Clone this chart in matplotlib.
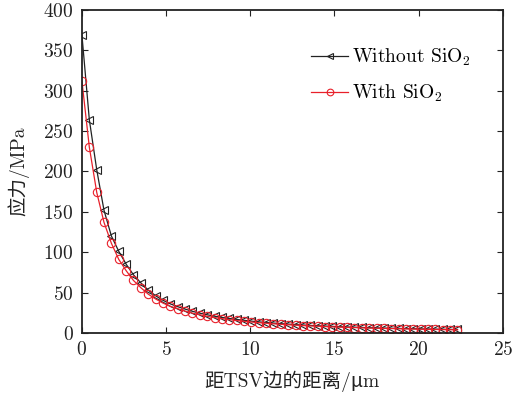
import numpy as np
import matplotlib
matplotlib.use('Agg')
import matplotlib.pyplot as plt

# ===== Data =====
dist_um = [0.00, 0.44, 0.88, 1.31, 1.75, 2.19, 2.63, 3.06, 3.50, 3.94,
           4.38, 4.81, 5.25, 5.69, 6.13, 6.56, 7.00, 7.44, 7.88, 8.31,
           8.75, 9.19, 9.63, 10.06, 10.50, 10.94, 11.38, 11.81, 12.25, 12.69,
           13.13, 13.56, 14.00, 14.44, 14.88, 15.31, 15.75, 16.19, 16.63, 17.06,
           17.50, 17.94, 18.38, 18.81, 19.25, 19.69, 20.13, 20.56, 21.00, 21.44,
           21.88, 22.31]
stress_without = [369, 264, 202, 152, 120, 101, 85, 72, 62, 53,
                  46, 40.5, 36, 32.5, 29.5, 26.8, 24.5, 22.5, 20.7, 19.2,
                  17.9, 16.7, 15.6, 14.6, 13.7, 12.9, 12.2, 11.5, 10.9, 10.3,
                  9.8, 9.3, 8.9, 8.5, 8.1, 7.7, 7.4, 7.1, 6.8, 6.5,
                  6.25, 6.0, 5.8, 5.6, 5.4, 5.2, 5.0, 4.85, 4.7, 4.55,
                  4.4, 4.25]
stress_with = [312, 230, 174, 137, 111, 91, 77, 65, 56, 48,
               42, 37, 33, 30, 27, 24.5, 22.5, 20.5, 19, 17.7,
               16.5, 15.4, 14.4, 13.5, 12.7, 12.0, 11.3, 10.7, 10.1, 9.6,
               9.1, 8.7, 8.3, 7.9, 7.5, 7.2, 6.9, 6.6, 6.3, 6.0,
               5.8, 5.6, 5.4, 5.2, 5.0, 4.8, 4.6, 4.45, 4.3, 4.15,
               4.0, 3.85]
xticks = [0, 5, 10, 15, 20, 25]
yticks = [0, 50, 100, 150, 200, 250, 300, 350, 400]

plt.rcParams['font.family'] = ['cmr10', 'Noto Sans CJK SC', 'DejaVu Sans']
plt.rcParams['mathtext.fontset'] = 'cm'
plt.rcParams['axes.formatter.use_mathtext'] = True

FS = 14
fig = plt.figure(figsize=(5.12, 3.94), dpi=100)
ax = fig.add_axes([0.160, 0.155, 0.822, 0.820])

ax.plot(dist_um, stress_without, color='#222222', lw=0.9, marker='<', ms=6,
        mfc='none', mec='#222222', mew=0.8, label='Without SiO$_2$')
ax.plot(dist_um, stress_with, color='#e8202a', lw=0.9, marker='o', ms=6,
        mfc='none', mec='#e8202a', mew=0.8, label='With SiO$_2$')

ax.set_xlim(0, 25); ax.set_ylim(0, 400)
ax.set_xticks(xticks); ax.set_yticks(yticks)
ax.tick_params(direction='in', top=True, right=True, length=4, width=0.8,
               labelsize=FS, colors='#222222', pad=6)
for s in ax.spines.values():
    s.set_linewidth(1.3); s.set_color('#222222')

ax.set_xlabel('距TSV边的距离/μm', fontsize=FS, color='#222222', labelpad=8)
ax.set_ylabel('应力/MPa', fontsize=FS, color='#222222', labelpad=10)

ax.legend(loc='upper right', bbox_to_anchor=(0.965, 0.94), frameon=False,
          fontsize=FS, markerscale=0.8, handlelength=1.9,
          handletextpad=0.2, labelspacing=0.75)

fig.savefig('out.png', dpi=100)
